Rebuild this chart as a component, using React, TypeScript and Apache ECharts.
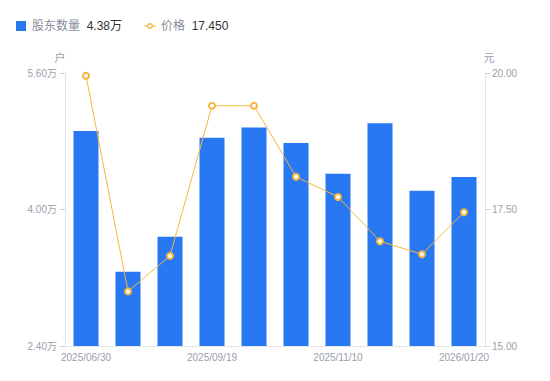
import React, { useEffect, useRef } from "react";
import * as echarts from "echarts";

const categories = [
  "2025/06/30", "2025/07/31", "2025/08/31", "2025/09/19", "2025/09/30",
  "2025/10/31", "2025/11/10", "2025/11/30", "2025/12/31", "2026/01/20",
];
const holders = [4.92, 3.27, 3.68, 4.84, 4.96, 4.78, 4.42, 5.01, 4.22, 4.38];
const prices = [19.95, 16.0, 16.65, 19.4, 19.4, 18.1, 17.73, 16.92, 16.68, 17.45];
const leftTicks = { min: 2.4, max: 5.6, interval: 1.6 };
const rightTicks = { min: 15, max: 20, interval: 2.5 };

const FONT = "'Liberation Sans', 'Noto Sans CJK SC', sans-serif";
const GRAY = "#9b9eab";
const LINEC = "#e4e6ea";
const TICKC = "#cfd2d8";
const ORANGE = "#f7b63e";

const LINE_ICON =
  "path://M0 4.4H3.3V5.6H0Z M8.7 4.4H12V5.6H8.7Z M6 2A3 3 0 1 1 5.99 2Z M6 3.4A1.6 1.6 0 1 0 6.01 3.4Z";

export default function App() {
  const ref = useRef<HTMLDivElement>(null);
  useEffect(() => {
    const chart = echarts.init(ref.current!, undefined, { renderer: "svg" });
    chart.setOption({
      animation: false,
      textStyle: { fontFamily: FONT },
      legend: {
        left: 11,
        top: 15,
        itemWidth: 12,
        itemHeight: 10,
        itemGap: 22,
        symbolKeepAspect: true,
        data: [
          { name: "股东数量", icon: "path://M0 0H10V10H0Z" },
          { name: "价格", icon: LINE_ICON, itemStyle: { color: ORANGE, borderWidth: 0 } },
        ],
        formatter: (name: string) =>
          name === "股东数量"
            ? `{n|${name}}  {v|${holders[holders.length - 1].toFixed(2)}万}`
            : `{n|${name}}  {v|${prices[prices.length - 1].toFixed(3)}}`,
        textStyle: {
          fontFamily: FONT,
          rich: {
            n: { color: "#8a8d99", fontSize: 12, fontFamily: FONT },
            v: { color: "#333333", fontSize: 12, fontFamily: FONT },
          },
        },
      },
      grid: { left: 65, right: 65, top: 73, bottom: 35 },
      xAxis: {
        type: "category",
        data: categories,
        axisLine: { show: true, lineStyle: { color: LINEC } },
        axisTick: { show: false },
        axisLabel: { color: GRAY, fontSize: 10, interval: 2, margin: 6, fontFamily: FONT },
      },
      yAxis: [
        {
          type: "value",
          name: "户",
          nameGap: 10,
          nameTextStyle: { color: GRAY, fontSize: 11, padding: [0, 10, 0, 0], fontFamily: FONT },
          min: leftTicks.min,
          max: leftTicks.max,
          interval: leftTicks.interval,
          axisLine: { show: true, lineStyle: { color: LINEC } },
          axisTick: { show: true, length: 5, lineStyle: { color: TICKC } },
          splitLine: { show: false },
          axisLabel: {
            color: GRAY,
            fontSize: 10,
            margin: 8,
            fontFamily: FONT,
            formatter: (v: number) => v.toFixed(2) + "万",
          },
        },
        {
          type: "value",
          name: "元",
          nameGap: 10,
          nameTextStyle: { color: GRAY, fontSize: 11, padding: [0, 0, 0, 8], fontFamily: FONT },
          min: rightTicks.min,
          max: rightTicks.max,
          interval: rightTicks.interval,
          axisLine: { show: true, lineStyle: { color: LINEC } },
          axisTick: { show: true, length: 5, lineStyle: { color: TICKC } },
          splitLine: { show: false },
          axisLabel: {
            color: GRAY,
            fontSize: 10,
            margin: 7,
            fontFamily: FONT,
            formatter: (v: number) => v.toFixed(2),
          },
        },
      ],
      series: [
        {
          name: "股东数量",
          type: "bar",
          yAxisIndex: 0,
          data: holders,
          barWidth: 25,
          itemStyle: { color: "#2877f3" },
        },
        {
          name: "价格",
          type: "line",
          yAxisIndex: 1,
          data: prices,
          symbol: "emptyCircle",
          symbolSize: 6,
          lineStyle: { color: ORANGE, width: 1 },
          itemStyle: { color: ORANGE, borderWidth: 1.5 },
        },
      ],
    });
    return () => chart.dispose();
  }, []);
  return (
    <div
      ref={ref}
      style={{ position: "fixed", left: 0, top: 0, width: 550, height: 381, background: "#fff" }}
    />
  );
}
